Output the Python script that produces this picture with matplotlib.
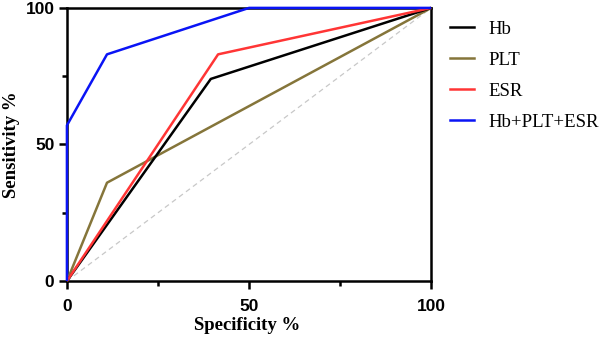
import matplotlib.pyplot as plt
from matplotlib.ticker import MultipleLocator
from matplotlib.lines import Line2D

# ROC curves: (100 - specificity, sensitivity) points
names = ['Hb', 'PLT', 'ESR', 'Hb+PLT+ESR']
colors = ['#000000', '#85753A', '#FF3535', '#0A14F5']
fpr = {
    'Hb': [0, 39.5, 100],
    'PLT': [0, 11, 100],
    'ESR': [0, 41.5, 100],
    'Hb+PLT+ESR': [0, 0, 11, 50, 100],
}
tpr = {
    'Hb': [0, 74, 100],
    'PLT': [0, 36, 100],
    'ESR': [0, 83, 100],
    'Hb+PLT+ESR': [0, 57, 83, 100, 100],
}

fig = plt.figure(figsize=(6.03, 3.44), dpi=100)
ax = fig.add_axes([0.111, 0.183, 0.604, 0.794])

# chance line
ax.plot([0, 100], [0, 100], color='#c8c8c8', lw=0.9, ls=(0, (4, 3)), zorder=1)
order = ['PLT', 'Hb', 'ESR', 'Hb+PLT+ESR']
for n in order:
    c = colors[names.index(n)]
    ax.plot(fpr[n], tpr[n], color=c, lw=1.8, zorder=3, clip_on=False, solid_capstyle='butt')

ax.set_xlim(0, 100)
ax.set_ylim(0, 100)
ax.xaxis.set_major_locator(MultipleLocator(50))
ax.xaxis.set_minor_locator(MultipleLocator(25))
ax.yaxis.set_major_locator(MultipleLocator(50))
ax.yaxis.set_minor_locator(MultipleLocator(25))
for s in ax.spines.values():
    s.set_linewidth(1.8)
ax.tick_params(which='major', length=6, width=1.8, direction='out')
ax.tick_params(which='minor', length=3.5, width=1.8, direction='out')
ax.tick_params(axis='x', which='major', pad=7)
ax.tick_params(axis='y', which='major', pad=3)
for lab in ax.get_xticklabels() + ax.get_yticklabels():
    lab.set_fontfamily('Liberation Sans')
    lab.set_fontweight('bold')
    lab.set_fontsize(12.5)

ax.set_xlabel('Specificity %', fontfamily='Liberation Serif', fontweight='bold', fontsize=13.5)
ax.set_ylabel('Sensitivity %', fontfamily='Liberation Serif', fontweight='bold', fontsize=13.5)
ax.xaxis.set_label_coords(0.496, -0.13)
ax.yaxis.set_label_coords(-0.13, 0.5)

handles = [Line2D([], [], color=c, lw=1.8) for c in colors]
leg = fig.legend(handles, names, loc='upper left', bbox_to_anchor=(0.734, 0.962),
                 frameon=False, borderaxespad=0, handlelength=1.28, handletextpad=0.75,
                 labelspacing=0.74, prop={'family': 'Liberation Serif', 'size': 13.5})

fig.savefig('out.png', dpi=100)
